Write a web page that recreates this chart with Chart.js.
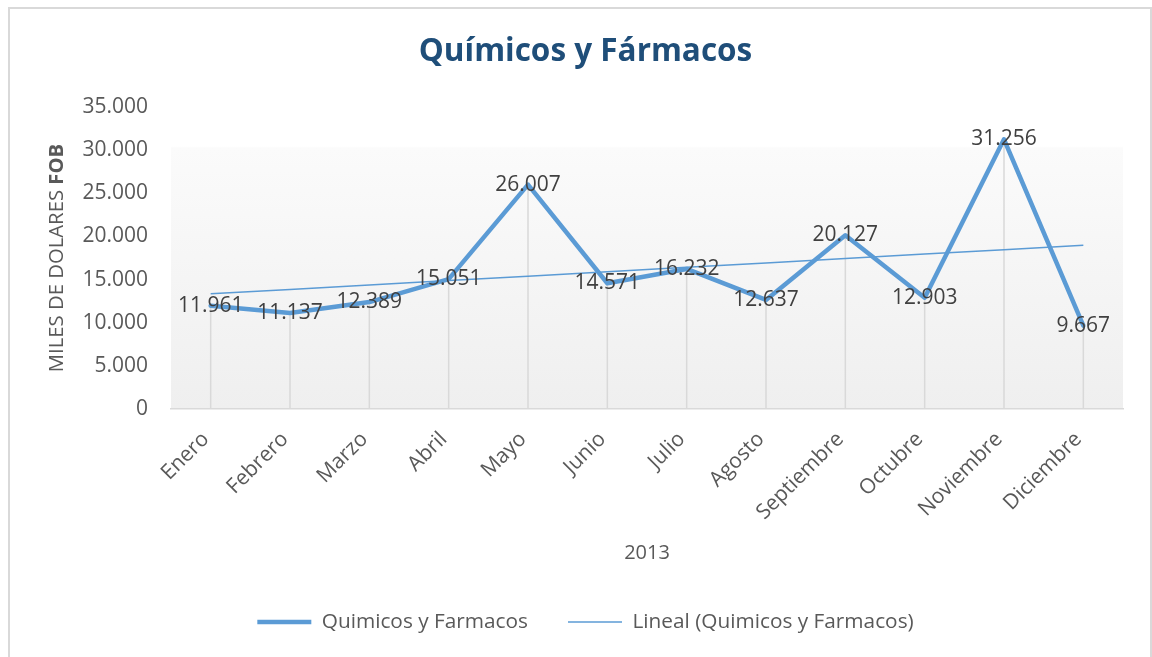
<!DOCTYPE html>
<html>
<head>
<meta charset="utf-8">
<script src="https://cdn.jsdelivr.net/npm/chart.js@4.4.1/dist/chart.umd.min.js"></script>
<style>
  html, body { margin: 0; padding: 0; background: #fff; }
  #wrap { position: relative; width: 1152px; height: 657px; overflow: hidden; }
  #frame { position: absolute; left: 8px; top: 7px; width: 1144px; height: 700px; box-sizing: border-box; border: 2px solid #d9d9d9; pointer-events: none; }
  canvas { display: block; }
</style>
</head>
<body>
<div id="wrap">
  <canvas id="chart" width="1152" height="657"></canvas>
  <div id="frame"></div>
</div>
<script>
// datos
const meses = ['Enero', 'Febrero', 'Marzo', 'Abril', 'Mayo', 'Junio', 'Julio', 'Agosto', 'Septiembre', 'Octubre', 'Noviembre', 'Diciembre'];
const quimicos = [11961, 11137, 12389, 15051, 26007, 14571, 16232, 12637, 20127, 12903, 31256, 9667];
const yTicks = [0, 5000, 10000, 15000, 20000, 25000, 30000, 35000];

const AZUL = '#5B9BD5';
const GRIS = '#595959';
const FUENTE = 'Open Sans';

// separador de miles con punto
const formato = v => String(v).replace(/\B(?=(\d{3})+(?!\d))/g, '.');

// tendencia lineal (minimos cuadrados, como Excel)
const tendencia = (() => {
  const n = quimicos.length;
  const xs = quimicos.map((_, i) => i + 1);
  const mx = xs.reduce((a, b) => a + b, 0) / n;
  const my = quimicos.reduce((a, b) => a + b, 0) / n;
  let sxy = 0, sxx = 0;
  xs.forEach((x, i) => { sxy += (x - mx) * (quimicos[i] - my); sxx += (x - mx) * (x - mx); });
  const m = sxy / sxx;
  const b = my - m * mx;
  return xs.map(x => b + m * x);
})();

// fondo degradado del area de trazado
const fondoPlugin = {
  id: 'fondo',
  beforeDraw(chart) {
    const { ctx, chartArea: a } = chart;
    const g = ctx.createLinearGradient(0, a.top, 0, a.bottom);
    g.addColorStop(0, '#ffffff');
    g.addColorStop(0.13, '#ffffff');
    g.addColorStop(0.135, '#fbfbfb');
    g.addColorStop(1, '#efefef');
    ctx.save();
    ctx.fillStyle = g;
    ctx.fillRect(a.left, a.top, a.right - a.left, a.bottom - a.top);
    ctx.restore();
  }
};

// lineas de caida desde cada punto
const caidaPlugin = {
  id: 'caida',
  beforeDatasetsDraw(chart) {
    const { ctx, chartArea } = chart;
    const meta = chart.getDatasetMeta(0);
    ctx.save();
    ctx.strokeStyle = '#d9d9d9';
    ctx.lineWidth = 1.5;
    meta.data.forEach(p => {
      ctx.beginPath();
      ctx.moveTo(p.x, p.y);
      ctx.lineTo(p.x, chartArea.bottom);
      ctx.stroke();
    });
    ctx.restore();
  }
};

// etiquetas de datos centradas
const etiquetasPlugin = {
  id: 'etiquetas',
  afterDatasetsDraw(chart) {
    const { ctx } = chart;
    const meta = chart.getDatasetMeta(0);
    ctx.save();
    ctx.font = `21px "${FUENTE}"`;
    ctx.fillStyle = '#404040';
    ctx.textAlign = 'center';
    ctx.textBaseline = 'middle';
    meta.data.forEach((p, i) => ctx.fillText(formato(quimicos[i]), p.x, p.y));
    ctx.restore();
  }
};

// titulo del eje Y con FOB en negrita
const tituloYPlugin = {
  id: 'tituloY',
  afterDraw(chart) {
    const { ctx, chartArea } = chart;
    const a = 'MILES DE DOLARES ';
    const b = 'FOB';
    const normal = `20.3px "${FUENTE}"`;
    const negrita = `bold 20.3px "${FUENTE}"`;
    ctx.save();
    ctx.font = normal;
    const wa = ctx.measureText(a).width;
    ctx.font = negrita;
    const wb = ctx.measureText(b).width;
    ctx.translate(57, (chartArea.top + chartArea.bottom) / 2);
    ctx.rotate(-Math.PI / 2);
    ctx.textAlign = 'left';
    ctx.textBaseline = 'middle';
    ctx.fillStyle = GRIS;
    const x0 = -(wa + wb) / 2;
    ctx.font = normal;
    ctx.fillText(a, x0, 0);
    ctx.font = negrita;
    ctx.fillText(b, x0 + wa, 0);
    ctx.restore();
  }
};

const ctx = document.getElementById('chart').getContext('2d');
new Chart(ctx, {
  type: 'line',
  data: {
    labels: meses,
    datasets: [
      {
        label: 'Quimicos y Farmacos',
        data: quimicos,
        borderColor: AZUL,
        backgroundColor: AZUL,
        borderWidth: 4.5,
        borderCapStyle: 'round',
        borderJoinStyle: 'round',
        pointRadius: 0,
        tension: 0
      },
      {
        label: 'Lineal (Quimicos y Farmacos)',
        data: tendencia,
        borderColor: AZUL,
        backgroundColor: AZUL,
        borderWidth: 1.5,
        pointRadius: 0,
        tension: 0
      }
    ]
  },
  options: {
    responsive: false,
    animation: false,
    layout: { padding: { left: 48, right: 29, top: 0, bottom: 14.6 } },
    plugins: {
      title: {
        display: true,
        text: 'Químicos y Fármacos',
        color: '#1F4E79',
        font: { family: FUENTE, size: 31.5, weight: 'bold', lineHeight: 1.2 },
        padding: { top: 33, bottom: 36.2 }
      },
      legend: {
        position: 'bottom',
        labels: {
          usePointStyle: true,
          pointStyle: 'line',
          pointStyleWidth: 54,
          padding: 40,
          color: GRIS,
          font: { family: FUENTE, size: 20.8 }
        }
      },
      tooltip: { enabled: false }
    },
    scales: {
      x: {
        offset: true,
        grid: { display: false, drawTicks: false, offset: true },
        border: { display: true, color: '#d9d9d9', width: 1.5 },
        ticks: {
          autoSkip: false, maxRotation: 45, minRotation: 45, padding: 18, labelOffset: -5,
          color: GRIS, font: { family: FUENTE, size: 21 }
        },
        title: {
          display: true, text: '2013', color: GRIS,
          font: { family: FUENTE, size: 20 },
          padding: { top: 0, bottom: 6.6 }
        },
        afterFit(scale) { scale.height = 162.6; }
      },
      y: {
        min: 0,
        max: 35000,
        grid: { display: false, drawTicks: false },
        border: { display: false },
        ticks: {
          padding: 23, color: GRIS,
          font: { family: FUENTE, size: 21 },
          callback: v => formato(v)
        },
        afterBuildTicks(scale) { scale.ticks = yTicks.map(v => ({ value: v })); },
        afterFit(scale) { scale.width = 123; }
      }
    }
  },
  plugins: [fondoPlugin, caidaPlugin, etiquetasPlugin, tituloYPlugin]
});
</script>
</body>
</html>
